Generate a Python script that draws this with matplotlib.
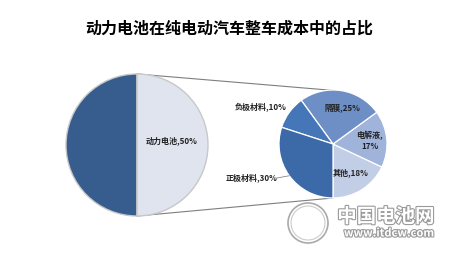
import matplotlib.pyplot as plt
import matplotlib.patheffects as pe
import numpy as np

plt.rcParams['font.family'] = ['Noto Sans CJK SC', 'DejaVu Sans']

# 整车成本：动力电池占比
main_labels = ['其他', '动力电池']
main_values = [50, 50]

# 动力电池成本构成
sub_labels = ['其他', '电解液', '隔膜', '负极材料', '正极材料']
sub_values = [18, 17, 25, 10, 30]

MAIN_COLORS = ['#365d8d', '#dfe4ef']
SUB_COLORS = ['#c2cde6', '#9fb3db', '#6d8fc6', '#4576b8', '#3c6aa8']

W, H = 459, 256
fig = plt.figure(figsize=(W / 100, H / 100), dpi=100)
ax = fig.add_axes([0, 0, 1, 1])

# 左侧大饼图
c1, r1 = (137, 111), 71
w1, _ = ax.pie(main_values, colors=MAIN_COLORS, startangle=90, counterclock=True,
               center=c1, radius=r1, frame=True,
               wedgeprops=dict(edgecolor='#c8c8c8', linewidth=1.0))
ax.text(c1[0] + 35, c1[1] + 4, f'{main_labels[1]},{main_values[1]}%', fontsize=5.8,
        fontweight='bold', color='#222222', ha='center', va='center')

# 右侧小饼图
c2, r2 = (333, 112), 54
w2, _ = ax.pie(sub_values, colors=SUB_COLORS, startangle=270, counterclock=True,
               center=c2, radius=r2, frame=True,
               wedgeprops=dict(edgecolor='white', linewidth=0.9))

# 标签位置：半径倍数、角度偏移、是否换行
label_style = {
    '其他': (0.62, 0, False),
    '电解液': (0.68, 0, True),
    '隔膜': (0.70, -5, False),
    '负极材料': (1.50, 9, False),
    '正极材料': (1.64, -13.5, False),
}
for wedge, name, val in zip(w2, sub_labels, sub_values):
    rf, dang, wrap = label_style[name]
    mid = np.deg2rad((wedge.theta1 + wedge.theta2) / 2 + dang)
    x = c2[0] + rf * r2 * np.cos(mid)
    y = c2[1] + rf * r2 * np.sin(mid)
    txt = f'{name},\n{val}%' if wrap else f'{name},{val}%'
    ax.text(x, y, txt, fontsize=5.8, fontweight='bold', color='#222222',
            ha='center', va='center', linespacing=1.3)

# 正极材料引导线
mid = np.deg2rad((w2[4].theta1 + w2[4].theta2) / 2)
ax.plot([c2[0] - 56, c2[0] + r2 * np.cos(mid)],
        [c2[1] - 34, c2[1] + r2 * np.sin(mid)], color='#888888', lw=0.6)

# 两饼之间的连接线
ax.plot([c1[0], c2[0] + 7], [c1[1] + r1, c2[1] + r2 - 1], color='#7f7f7f', lw=0.8, zorder=0)
ax.plot([c1[0], c2[0]], [c1[1] - r1, c2[1] - r2], color='#7f7f7f', lw=0.8, zorder=0)

# 水印
stroke = [pe.withStroke(linewidth=1.6, foreground='#9a9a9a')]
ax.text(386, 39, '中国电池网', fontsize=14, color='white', ha='center', va='center',
        fontweight='bold', path_effects=stroke)
ax.text(389, 23, 'www.itdcw.com', fontsize=8, color='white', ha='center', va='center',
        fontweight='bold', path_effects=stroke)
ax.add_patch(plt.Circle((308, 33), 20, fill=False, ec='#aaaaaa', lw=1.2))
ax.add_patch(plt.Circle((308, 33), 17, fill=False, ec='#cccccc', lw=0.8))

ax.set_xlim(0, W)
ax.set_ylim(0, H)
ax.set_aspect('equal')
ax.axis('off')

fig.text(0.5, 1 - 29 / H, '动力电池在纯电动汽车整车成本中的占比', fontsize=11.5,
         fontweight='bold', ha='center', va='center')

fig.savefig('out.png', dpi=100, facecolor='white')
